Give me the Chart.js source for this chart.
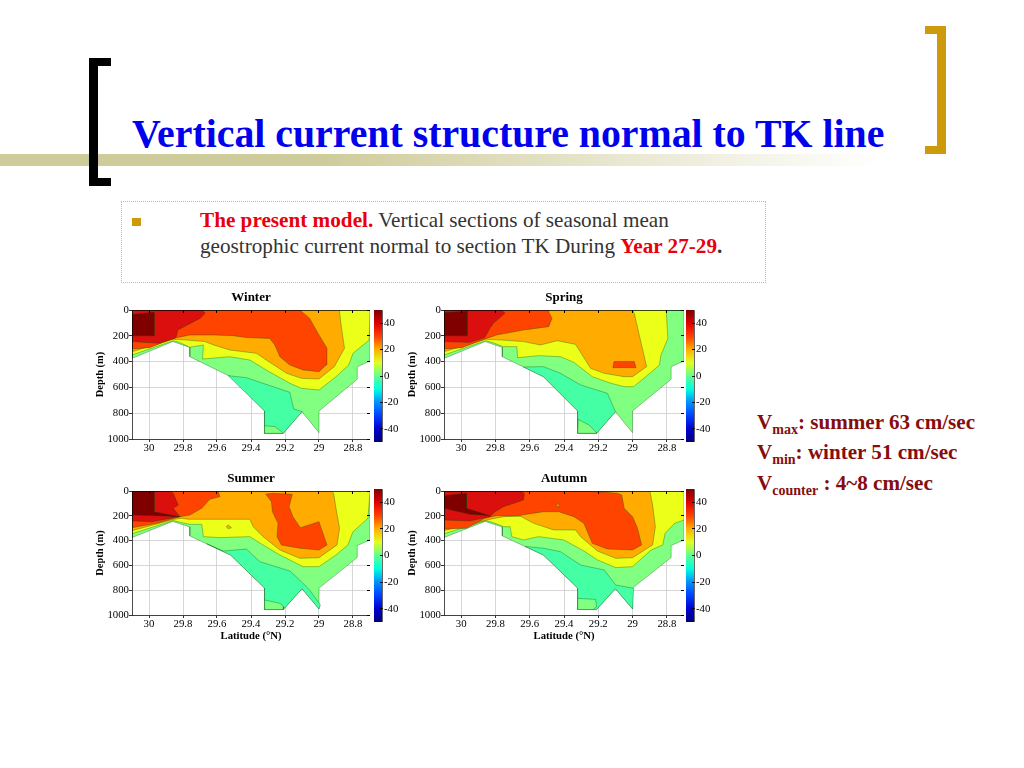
<!DOCTYPE html>
<html>
<head>
<meta charset="utf-8">
<title>Vertical current structure normal to TK line</title>
<script src="https://cdn.jsdelivr.net/npm/chart.js@4"></script>
<style>
  html, body { margin: 0; padding: 0; background: #fff; }
  body { position: relative; width: 1024px; height: 768px; overflow: hidden; font-family: "Liberation Serif", serif; }
  .abs { position: absolute; line-height: 1; white-space: nowrap; }
  canvas { position: absolute; }
  #band { position: absolute; left: 0; top: 154px; width: 920px; height: 12px; background: linear-gradient(90deg, #cfcc9b 0%, #cfcc9b 35%, #ffffff 96%); }
  .bracket { position: absolute; width: 13px; height: 112px; border-style: solid; }
  #bracketLeft { left: 89px; top: 58px; border-color: #000; border-width: 8px 0 8px 9px; }
  #bracketRight { left: 925px; top: 26px; border-color: #cc9a0a; border-width: 8px 9px 8px 0; width: 12px; }
  #headline { left: 132px; top: 115px; font-size: 39.8px; font-weight: bold; color: #0000ee; }
  #noteBox { position: absolute; left: 121px; top: 201px; width: 643px; height: 80px; border: 1px dotted #b8b8b8; }
  #bullet { position: absolute; left: 132px; top: 218px; width: 9px; height: 8px; background: #cc9a0a; }
  .note { left: 200px; font-size: 21.2px; color: #333; }
  .red { color: #e8000d; font-weight: bold; }
  .stat { left: 757px; font-size: 21.1px; font-weight: bold; color: #860d0d; }
  .stat sub { font-size: 14px; vertical-align: -5px; line-height: 0; }
</style>
</head>
<body>
<div id="band"></div>
<div class="bracket" id="bracketLeft"></div>
<div class="bracket" id="bracketRight"></div>
<div class="abs" id="headline">Vertical current structure normal to TK line</div>

<div id="noteBox"></div>
<div id="bullet"></div>
<div class="abs note" style="top:210px"><span class="red">The present model.</span> Vertical sections of seasonal mean</div>
<div class="abs note" style="top:236px">geostrophic current normal to section TK During <span class="red">Year 27-29</span><b>.</b></div>

<div class="abs stat" style="top:412px">V<sub>max</sub>: summer 63 cm/sec</div>
<div class="abs stat" style="top:442px">V<sub>min</sub>: winter 51 cm/sec</div>
<div class="abs stat" style="top:473px">V<sub>counter</sub> : 4~8 cm/sec</div>

<canvas id="winter" width="280" height="175" style="left:90px;top:290px"></canvas>
<canvas id="spring" width="282" height="175" style="left:402px;top:290px"></canvas>
<canvas id="summer" width="280" height="172" style="left:90px;top:471px"></canvas>
<canvas id="autumn" width="282" height="172" style="left:402px;top:471px"></canvas>
<canvas id="winterBar" width="34" height="132" style="left:374px;top:310px"></canvas>
<canvas id="springBar" width="34" height="132" style="left:686px;top:310px"></canvas>
<canvas id="summerBar" width="34" height="133" style="left:374px;top:489px"></canvas>
<canvas id="autumnBar" width="34" height="133" style="left:686px;top:489px"></canvas>

<script>
const latTicks = [30, 29.8, 29.6, 29.4, 29.2, 29, 28.8]
const depthTicks = [0, 200, 400, 600, 800, 1000]
const colorbarTicks = [40, 20, 0, -20, -40]

// colorbar colours, speed (cm/sec) -> colour
const colorbarSpeeds = [-50, -40, -30, -20, -10, 0, 10, 20, 30, 40, 50]
const colorbarColors = ["#00007f", "#0000d0", "#0040ff", "#0090ff", "#00ffe0", "#60ff90", "#e0ff20", "#ffb000", "#ff4000", "#e00000", "#800000"]

// fill colour of each contour band, keyed by the band's mid speed
const bandColors = { "-5": "#45ffa4", "5": "#80ff80", "15": "#ecff18", "25": "#ffab00", "35": "#ff4400", "45": "#dc0f0f", "55": "#800000" }

// sea floor along the section, [lat, depth]
const seaFloor = [[30.1,375],[29.86,245],[29.76,290],[29.76,362],[29.52,517],[29.32,783],[29.32,956],[29.21,956],[29.1,788],[29,951],[29,783],[28.775,537],[28.775,440],[28.7,395],[28.7,0],[30.1,0]]

// Winter contours
const winterCold = [[29.534,509],[29.427,525],[29.33,568],[29.172,638],[29.149,767],[29.1,788],[29.21,956],[29.32,956],[29.32,783]]
const winterPatch = [[29.32,897],[29.26,904],[29.215,948],[29.21,956],[29.32,956]]
const winter10 = [[30.1,349],[29.857,238],[29.82,251],[29.76,289],[29.68,271],[29.685,380],[29.525,362],[29.407,388],[29.3,473],[29.172,568],[29.104,607],[29,620],[28.9,517],[28.825,426],[28.8,336],[28.705,233],[28.7,0],[30.1,0]]
const winter20 = [[30.1,323],[29.857,227],[29.78,233],[29.67,245],[29.62,271],[29.525,310],[29.368,336],[29.31,388],[29.19,491],[29.104,530],[29,535],[28.91,439],[28.85,297],[28.87,116],[28.88,0],[30.1,0]]
const winter30 = [[30.1,302],[29.995,292],[29.857,220],[29.76,194],[29.62,194],[29.505,199],[29.427,214],[29.29,220],[29.26,271],[29.23,362],[29.172,426],[29.094,465],[29,478],[28.957,426],[28.953,297],[29,194],[29.055,65],[29.113,0],[30.1,0]]
const winter40 = [[30.1,245],[29.945,258],[29.847,220],[29.84,207],[29.83,155],[29.7,65],[29.67,26],[29.685,0],[30.1,0]]
const winter50 = [[30.1,34],[29.97,18],[29.97,200],[30.1,200]]
const winterShapes = [seaFloor, winterCold, winterPatch, winter10, winter20, winter30, winter40, winter50]
const winterLevels = [5, -5, 5, 15, 25, 35, 45, 55]

// Spring contours
const springCold = [[29.636,442],[29.519,439],[29.421,491],[29.303,581],[29.147,646],[29.1,788],[29.21,956],[29.32,956],[29.32,783],[29.52,517]]
const springPatch = [[29.317,848],[29.254,891],[29.21,951],[29.21,956],[29.32,956]]
const spring10 = [[30.1,349],[29.857,238],[29.82,251],[29.753,284],[29.675,284],[29.671,370],[29.548,354],[29.421,362],[29.342,406],[29.235,517],[29.127,568],[29.049,594],[28.994,594],[28.892,483],[28.843,426],[28.834,349],[28.794,220],[28.804,0],[30.1,0]]
const spring20 = [[30.1,323],[29.857,227],[29.763,233],[29.636,245],[29.538,271],[29.44,238],[29.333,266],[29.245,452],[29.166,491],[29.049,517],[29,517],[28.918,439],[28.961,194],[28.99,26],[29,0],[30.1,0]]
const spring30 = [[30.1,302],[29.995,292],[29.851,220],[29.793,194],[29.636,155],[29.489,129],[29.47,65],[29.49,13],[29.48,0],[30.1,0]]
const springPocket = [[29.108,400],[28.99,400],[28.98,447],[29.115,447]]
const spring40 = [[30.1,245],[29.95,251],[29.862,214],[29.832,142],[29.812,103],[29.744,26],[29.763,0],[30.1,0]]
const spring50 = [[30.1,20],[29.965,10],[29.965,200],[30.1,200]]
const springShapes = [seaFloor, springCold, springPatch, spring10, spring20, spring30, springPocket, spring40, spring50]
const springLevels = [5, -5, 5, 15, 25, 35, 35, 45, 55]

// Summer contours
const summerCold = [[29.66,426],[29.564,484],[29.427,468],[29.348,570],[29.172,645],[29.113,718],[29.055,798],[28.992,919],[29,951],[29.1,788],[29.21,956],[29.32,956],[29.32,783],[29.52,517]]
const summerPatch = [[29.32,879],[29.23,906],[29.207,933],[29.21,956],[29.32,956]]
const summer10 = [[30.1,345],[29.857,238],[29.82,251],[29.76,269],[29.69,269],[29.68,368],[29.583,376],[29.407,368],[29.329,435],[29.23,516],[29.094,610],[29,610],[28.9,516],[28.83,435],[28.8,328],[28.712,220],[28.7,0],[30.1,0]]
const summer20 = [[30.1,320],[29.857,230],[29.808,220],[29.77,228],[29.407,228],[29.387,288],[29.329,368],[29.23,476],[29.113,543],[29,538],[28.894,435],[28.879,301],[28.9,140],[28.914,19],[28.93,0],[30.1,0]]
const summerSpot = [[29.546,288],[29.534,274],[29.515,296],[29.534,304]]
const summer30 = [[30.1,296],[29.955,261],[29.818,207],[29.76,194],[29.69,140],[29.642,67],[29.583,46],[29.593,0],[30.1,0]]
const summerCore = [[29.313,24],[29.27,19],[29.157,27],[29.176,126],[29.153,207],[29.11,296],[29,247],[28.953,435],[29,476],[29.113,462],[29.221,435],[29.247,368],[29.241,261],[29.274,167],[29.28,86]]
const summer40 = [[30.1,242],[29.984,247],[29.818,207],[29.857,140],[29.828,113],[29.857,19],[29.877,0],[30.1,0]]
const summer50 = [[30.1,0],[29.97,0],[29.97,167],[29.896,188],[29.818,207],[29.955,199],[30.1,194]]
const summerShapes = [seaFloor, summerCold, summerPatch, summer10, summer20, summerSpot, summer30, summerCore, summer40, summer50]
const summerLevels = [5, -5, 5, 15, 25, 25, 35, 35, 45, 55]

// Autumn contours
const autumnCold = [[29.626,447],[29.519,462],[29.421,489],[29.303,597],[29.166,637],[29.098,758],[28.994,785],[29,951],[29.1,788],[29.21,956],[29.32,956],[29.32,783],[29.52,517]]
const autumnPatch = [[29.32,866],[29.215,874],[29.21,933],[29.23,956],[29.32,956]]
const autumn10 = [[30.1,345],[29.857,238],[29.82,251],[29.75,288],[29.714,288],[29.705,368],[29.636,395],[29.548,368],[29.401,395],[29.284,484],[29.205,556],[29.098,618],[29,610],[28.892,476],[28.824,435],[28.81,341],[28.755,261],[28.7,234],[28.7,0],[30.1,0]]
const autumn20 = [[30.1,320],[29.851,234],[29.753,207],[29.656,202],[29.577,261],[29.46,314],[29.333,314],[29.303,368],[29.205,484],[29.098,543],[29,538],[28.883,435],[28.867,288],[28.883,113],[28.896,19],[28.9,0],[30.1,0]]
const autumn30 = [[30.1,306],[29.969,301],[29.861,220],[29.793,199],[29.656,202],[29.646,194],[29.519,167],[29.43,167],[29.342,207],[29.284,261],[29.235,422],[29.147,468],[29,476],[28.947,435],[28.971,301],[29,207],[29.049,140],[29.063,32],[29.088,19],[29.205,5],[29.6,0],[30.1,0]]
const autumnSpot = [[29.438,99],[29.428,113],[29.434,134],[29.442,116]]
const autumn40 = [[30.1,234],[29.949,242],[29.832,207],[29.802,167],[29.753,126],[29.636,73],[29.632,19],[29.656,0],[30.1,0]]
const autumn50 = [[30.1,38],[29.969,19],[29.969,140],[29.832,199],[29.949,188],[30.1,140]]
const autumnShapes = [seaFloor, autumnCold, autumnPatch, autumn10, autumn20, autumn30, autumnSpot, autumn40, autumn50]
const autumnLevels = [5, -5, 5, 15, 25, 35, 25, 45, 55]

const serif = "'Liberation Serif', serif"
Chart.defaults.animation = false
Chart.defaults.font.family = serif
Chart.defaults.color = "#000"

const fitHeight = h => scale => { scale.height = h }
const fitWidth = w => scale => { scale.width = w; scale.paddingTop = 0; scale.paddingBottom = 0 }
const useTicks = values => scale => { scale.ticks = values.map(v => ({ value: v })) }

function drawSection(id, title, shapes, levels, hasLatitude) {
  const edgeAxis = {
    reverse: true,
    grid: { drawOnChartArea: false, tickLength: -3, tickColor: "#000", z: 1 },
    border: { color: "#000", width: 0.7, z: 1 },
    ticks: { display: false },
  }
  new Chart(document.getElementById(id), {
    type: "scatter",
    data: {
      datasets: shapes.map((shape, i) => ({
        data: shape.concat([shape[0]]).map(p => ({ x: p[0], y: p[1] })),
        showLine: true,
        fill: "shape",
        backgroundColor: bandColors[levels[i]],
        borderColor: "rgba(0, 70, 10, 0.55)",
        borderWidth: 0.6,
        pointRadius: 0,
        order: -i, // later shapes paint over earlier ones
      })),
    },
    options: {
      responsive: false,
      layout: { autoPadding: false, padding: 0 },
      plugins: {
        legend: { display: false },
        tooltip: { enabled: false },
        title: {
          display: true, text: title, fullSize: false, color: "#000",
          font: { family: serif, size: 13, weight: "bold", lineHeight: 1.154 },
          padding: { top: 0, bottom: 5 },
        },
      },
      scales: {
        x: {
          type: "linear", position: "bottom", min: 28.7, max: 30.1, reverse: true,
          afterBuildTicks: useTicks(latTicks),
          afterFit: fitHeight(hasLatitude ? 28 : 26),
          grid: { color: "#cdcdcd", lineWidth: 0.8, tickLength: 3, tickColor: "#000" },
          border: { color: "#000", width: 0.7, z: 1 },
          ticks: { autoSkip: false, maxRotation: 0, padding: 0, font: { size: 10.8 }, callback: v => String(v) },
          title: {
            display: hasLatitude, text: "Latitude (°N)", color: "#000",
            font: { family: serif, size: 10.7, weight: "bold" }, padding: { top: 0, bottom: 0 },
          },
        },
        y: {
          type: "linear", position: "left", min: 0, max: 1000, reverse: true,
          afterBuildTicks: useTicks(depthTicks),
          afterFit: fitWidth(42),
          grid: { color: "#cdcdcd", lineWidth: 0.8, tickLength: 3, tickColor: "#000" },
          border: { color: "#000", width: 0.7, z: 1 },
          ticks: { autoSkip: false, padding: 0, font: { size: 10.8 }, callback: v => String(v) },
          title: {
            display: true, text: "Depth (m)", color: "#000",
            font: { family: serif, size: 10.4, weight: "bold" }, padding: { top: 4, bottom: 0 },
          },
        },
        xEdge: { ...edgeAxis, type: "linear", position: "top", min: 28.7, max: 30.1, afterBuildTicks: useTicks(latTicks), afterFit: fitHeight(0) },
        yEdge: { ...edgeAxis, type: "linear", position: "right", min: 0, max: 1000, afterBuildTicks: useTicks(depthTicks), afterFit: fitWidth(0) },
      },
    },
  })
}

function drawColorbar(id) {
  new Chart(document.getElementById(id), {
    type: "bar",
    data: {
      labels: ["speed"],
      datasets: [{
        data: [[colorbarSpeeds[0], colorbarSpeeds[colorbarSpeeds.length - 1]]],
        barPercentage: 1,
        categoryPercentage: 1,
        borderWidth: 0,
        backgroundColor: context => {
          const { ctx, chartArea } = context.chart
          if (!chartArea) return colorbarColors[5]
          const gradient = ctx.createLinearGradient(0, chartArea.bottom, 0, chartArea.top)
          colorbarSpeeds.forEach((s, i) => gradient.addColorStop((s + 50) / 100, colorbarColors[i]))
          return gradient
        },
      }],
    },
    options: {
      responsive: false,
      layout: { autoPadding: false, padding: 0 },
      plugins: { legend: { display: false }, tooltip: { enabled: false } },
      scales: {
        x: { display: false },
        y: {
          position: "right", min: -50, max: 50,
          afterBuildTicks: useTicks(colorbarTicks),
          afterFit: fitWidth(26),
          grid: { drawOnChartArea: false, tickLength: -2, tickColor: "#000", z: 1 },
          border: { color: "#000", width: 0.6, z: 1 },
          ticks: { autoSkip: false, padding: 4, font: { size: 10.8 } },
        },
      },
    },
  })
}

drawSection("winter", "Winter", winterShapes, winterLevels, false)
drawSection("spring", "Spring", springShapes, springLevels, false)
drawSection("summer", "Summer", summerShapes, summerLevels, true)
drawSection("autumn", "Autumn", autumnShapes, autumnLevels, true)
drawColorbar("winterBar")
drawColorbar("springBar")
drawColorbar("summerBar")
drawColorbar("autumnBar")
</script>
</body>
</html>
